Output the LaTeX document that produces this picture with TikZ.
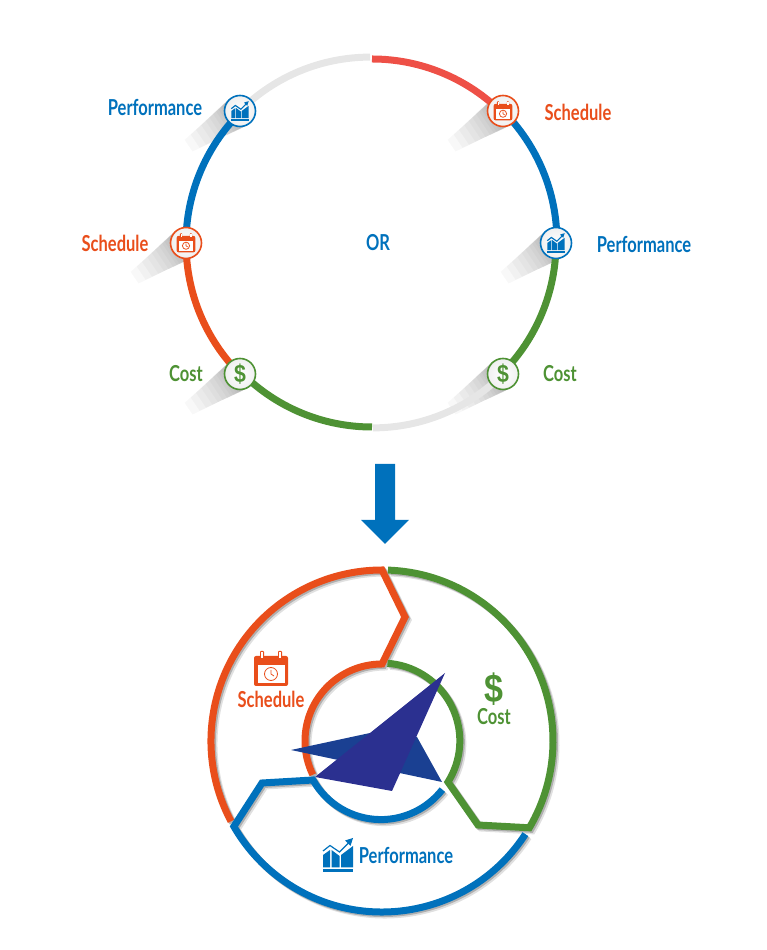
\documentclass[tikz,border=0pt]{standalone}
\usepackage{fontspec}
\setmainfont[FakeStretch=0.75]{Lato}
\newfontfamily\signfont[FakeStretch=0.85]{Liberation Sans}
\definecolor{schedcol}{HTML}{E94E1B}
\definecolor{costcol}{HTML}{4E9234}
\definecolor{perfcol}{HTML}{0071BC}
\definecolor{palecol}{HTML}{E6E6E6}
\definecolor{redcol}{HTML}{EE5047}
\definecolor{navycol}{HTML}{2B3090}
\definecolor{wingcol}{HTML}{1A4092}
\newcommand{\schedstrip}{(dialC) ++(208:171) arc[start angle=208, end angle=90, radius=171]
    -- (schedKnee) -- (schedIn) arc[start angle=90, end angle=206, radius=77]}
\newcommand{\coststrip}{(dialC) ++(88:171) arc[start angle=88, end angle=-30.5, radius=171]
    -- (costKneeA) -- (costKneeB) arc[start angle=-32, end angle=86, radius=77.7]}
\newcommand{\perfstrip}{(dialC) ++(-33:171) arc[start angle=-33, end angle=-150, radius=171]
    -- (perfKneeA) -- (perfKneeB) arc[start angle=209.5, end angle=322, radius=78]}
\tikzset{
    ringline/.style={line width=7},
    stripline/.style={line width=7, miter limit=6},
    iconring/.style={circle, minimum size=31, inner sep=0, line width=1.6,
        inner color=white, outer color=black!6},
    tag/.style={font=\bfseries\fontsize{22}{24}\selectfont, inner sep=0},
    calicon/.pic={
        \fill[schedcol, rounded corners=2] (-17,-17) rectangle (17,13);
        \fill[white] (-13.5,-14) rectangle (13.5,4);
        \fill[schedcol, rounded corners=1] (-11,9) rectangle (-7,18);
        \fill[schedcol, rounded corners=1] (7,9) rectangle (11,18);
        \fill[white] (-10,11) rectangle (-8,16.5);
        \fill[white] (8,11) rectangle (10,16.5);
        \draw[schedcol, line width=.8] (0,-5) circle (6.5) (0,-1) -- (0,-5) -- (3,-7);
    },
    charticon/.pic={
        \fill[perfcol] (-15,-17) rectangle (15,-14.5);
        \fill[perfcol] (-15,-12.5) -- (-15,0) -- (-8,5) -- (-8,-12.5) -- cycle;
        \fill[perfcol] (-6.5,-12.5) -- (-6.5,5) -- (1.5,-1) -- (1.5,-12.5) -- cycle;
        \fill[perfcol] (3,-12.5) -- (3,0) -- (15,9) -- (15,-12.5) -- cycle;
        \draw[perfcol, line width=1.2] (-15,4) -- (-8,9.5) -- (1.5,3) -- (11,12.5);
        \fill[perfcol] (15,17) -- (7,14.5) -- (12.5,9) -- cycle;
    },
}
\begin{document}
\begin{tikzpicture}[x=1pt, y=1pt]
    \useasboundingbox (0,0) rectangle (767,950);

    % upper ring
    \coordinate (ringC) at (372,707);
    \coordinate (ringT) at (372,891);
    \coordinate (ringB) at (372,523);
    \coordinate (schedR) at (503,839);
    \coordinate (perfR) at (556,707);
    \coordinate (costR) at (503,576);
    \coordinate (costL) at (240,576);
    \coordinate (schedL) at (186,707);
    \coordinate (perfL) at (240,839);

    % long shadows
    \foreach \spot in {schedR,perfR,costR,costL,schedL,perfL}
        \foreach \len/\wid in {2/15,4/15,6/15,8/15,10/15,12/15,14/14,17/14,20/13,24/13,29/12,34/11,40/10,47/9,54/8,62/7}
            \fill[black, opacity=.027, shift={(\spot)}, rotate=214]
                (0,-16) -- (\len,-\wid) -- (\len,\wid) -- (0,16) -- cycle;

    \draw[ringline, redcol] (ringT) arc[start angle=90, end angle=45, radius=184];
    \draw[ringline, perfcol] (schedR) arc[start angle=45, end angle=0, radius=184];
    \draw[ringline, costcol] (perfR) arc[start angle=0, end angle=-45, radius=184];
    \draw[ringline, palecol] (costR) arc[start angle=-45, end angle=-90, radius=184];
    \draw[ringline, costcol] (ringB) arc[start angle=-90, end angle=-135, radius=184];
    \draw[ringline, schedcol] (costL) arc[start angle=225, end angle=180, radius=184];
    \draw[ringline, perfcol] (schedL) arc[start angle=180, end angle=135, radius=184];
    \draw[ringline, palecol] (perfL) arc[start angle=135, end angle=90, radius=184];

    \node[iconring, draw=schedcol] (schedRnode) at (schedR) {};
    \node[iconring, draw=perfcol] (perfRnode) at (perfR) {};
    \node[iconring, draw=costcol] (costRnode) at (costR) {};
    \node[iconring, draw=costcol] (costLnode) at (costL) {};
    \node[iconring, draw=schedcol] (schedLnode) at (schedL) {};
    \node[iconring, draw=perfcol] (perfLnode) at (perfL) {};
    \pic[scale=.55] at (schedR) {calicon};
    \pic[scale=.55] at (schedL) {calicon};
    \pic[scale=.58] at (perfR) {charticon};
    \pic[scale=.58] at (perfL) {charticon};
    \node[text=costcol, font=\signfont\bfseries\fontsize{25}{25}\selectfont] (costRsign) at (costR) {\$};
    \node[text=costcol, font=\signfont\bfseries\fontsize{25}{25}\selectfont] (costLsign) at (costL) {\$};

    \node[tag, text=perfcol] (ortext) at (378,707) {OR};
    \node[tag, text=perfcol] (perfLtext) at (155,842) {Performance};
    \node[tag, text=schedcol] (schedRtext) at (578,838) {Schedule};
    \node[tag, text=perfcol] (perfRtext) at (644,705) {Performance};
    \node[tag, text=schedcol] (schedLtext) at (115,707) {Schedule};
    \node[tag, text=costcol] (costLtext) at (186,576) {Cost};
    \node[tag, text=costcol] (costRtext) at (560,576) {Cost};

    % block arrow
    \fill[perfcol] (375,486) -- (395,486) -- (395,430) -- (409,430) -- (385,406)
        -- (361,430) -- (375,430) -- cycle;

    % lower dial
    \coordinate (dialC) at (382,209);
    \coordinate (schedKnee) at (405,333);
    \coordinate (schedIn) at (382,286);
    \coordinate (costKneeA) at (478,125);
    \coordinate (costKneeB) at (448,168);
    \coordinate (perfKneeA) at (262,167);
    \coordinate (perfKneeB) at (313,170);

    \begin{scope}[transform canvas={xshift=3, yshift=-3}]
        \draw[stripline, black, opacity=.12] \schedstrip;
        \draw[stripline, black, opacity=.12] \coststrip;
        \draw[stripline, black, opacity=.12] \perfstrip;
    \end{scope}
    \begin{scope}[transform canvas={xshift=1.5, yshift=-1.5}]
        \draw[stripline, black, opacity=.22] \schedstrip;
        \draw[stripline, black, opacity=.22] \coststrip;
        \draw[stripline, black, opacity=.22] \perfstrip;
    \end{scope}
    \draw[stripline, schedcol] \schedstrip;
    \draw[stripline, costcol] \coststrip;
    \draw[stripline, perfcol] \perfstrip;

    % needle
    \fill[wingcol] (291,200) -- (370,217) -- (417,213) -- (442,168) -- cycle;
    \fill[navycol] (445,277) -- (315,173) -- (392,159) -- cycle;

    \pic at (271,281) {calicon};
    \node[tag, text=schedcol] (schedtext) at (271,251) {Schedule};
    \node[text=costcol, font=\signfont\bfseries\fontsize{40}{40}\selectfont] (costsign) at (494,261) {\$};
    \node[tag, text=costcol] (costtext) at (494,233) {Cost};
    \pic at (338,95) {charticon};
    \node[tag, text=perfcol] (perftext) at (406,95) {Performance};
\end{tikzpicture}
\end{document}
